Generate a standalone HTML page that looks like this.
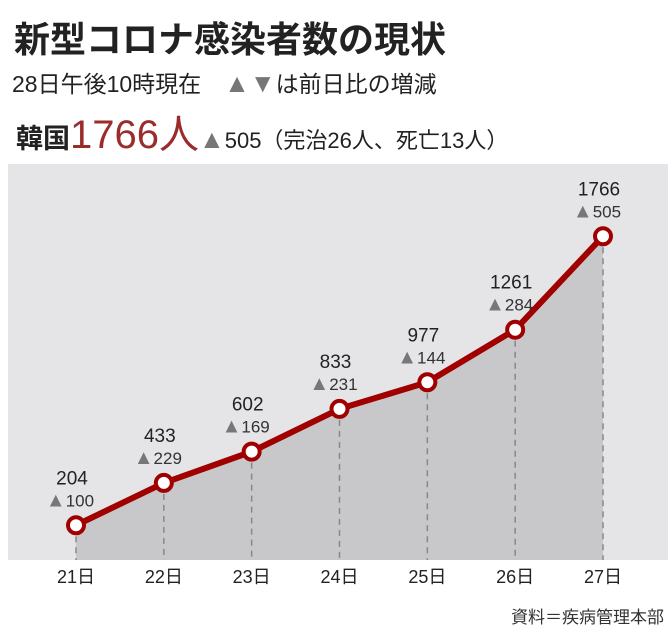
<!DOCTYPE html>
<html><head><meta charset="utf-8"><style>
body{margin:0;width:670px;height:630px;background:#fff;font-family:"Liberation Sans","Noto Sans CJK JP",sans-serif;overflow:hidden}
</style></head><body>
<svg width="670" height="630" style="position:absolute;left:0;top:0">
<text x="14" y="52" font-size="36" font-weight="bold" fill="#222" font-family="Liberation Sans,Noto Sans CJK JP,sans-serif">新型コロナ感染者数の現状</text>
<text x="12" y="92" font-size="23" fill="#222" font-family="Liberation Sans,Noto Sans CJK JP,sans-serif">28日午後10時現在　<tspan fill="#777" font-size="26">▲▼</tspan>は前日比の増減</text>
<text x="16" y="148" font-size="27" font-weight="bold" fill="#222" font-family="Liberation Sans,Noto Sans CJK JP,sans-serif">韓国<tspan fill="#9b2c2c" font-size="40" font-weight="normal">1766人</tspan><tspan font-size="22" font-weight="normal"><tspan fill="#777" font-size="26">▲</tspan>505（完治26人、死亡13人）</tspan></text>
<rect x="8" y="164" width="660" height="396" fill="#e5e5e7"/>
<g id="g"></g>
<text x="664" y="623" font-size="17" fill="#333" text-anchor="end" font-family="Liberation Sans,Noto Sans CJK JP,sans-serif">資料＝疾病管理本部</text>
</svg>
<script>
const categories=["21日","22日","23日","24日","25日","26日","27日"];
const totals=[204,433,602,833,977,1261,1766];
const deltas=[100,229,169,231,144,284,505];
const xs0=76,xs1=603;
const xScale=i=>xs0+i*(xs1-xs0)/(categories.length-1);
const yScale=v=>563-v*0.185;
const NS="http://www.w3.org/2000/svg",g=document.getElementById("g");
function mk(t,a){const e=document.createElementNS(NS,t);for(const k in a)e.setAttribute(k,a[k]);g.appendChild(e);return e;}
let d="M"+xScale(0)+",560";
totals.forEach((v,i)=>d+=" L"+xScale(i)+","+yScale(v));
d+=" L"+xScale(totals.length-1)+",560 Z";
const area=mk("path",{d:d,fill:"#c8c8ca"});


totals.forEach((v,i)=>{
 const l=mk("line",{x1:xScale(i),x2:xScale(i),y1:yScale(v),y2:560,stroke:"#888","stroke-width":1.5,"stroke-dasharray":"6,5"});
 
 
 const t=mk("text",{x:xScale(i),y:583,"font-size":18,fill:"#222","text-anchor":"middle"});
 t.textContent=categories[i];
 
 
});
const line=mk("polyline",{points:totals.map((v,i)=>xScale(i)+","+yScale(v)).join(" "),fill:"none",stroke:"#a00000","stroke-width":6,"stroke-linejoin":"round"});


totals.forEach((v,i)=>{
 const x=xScale(i),y=yScale(v);
 const c=mk("circle",{cx:x,cy:y,r:8,fill:"#fff",stroke:"#a00000","stroke-width":4});
 
 
 const t=mk("text",{x:x-4,y:y-41,"font-size":19,fill:"#222","text-anchor":"middle"});
 t.textContent=v;
 
 
 const t2=mk("text",{x:x-6,y:y-19,"font-size":17,fill:"#333","text-anchor":"middle"});
 t2.innerHTML='<tspan fill="#777" font-size="20">▲</tspan>'+deltas[i];
 
 
});
</script>
</body></html>
